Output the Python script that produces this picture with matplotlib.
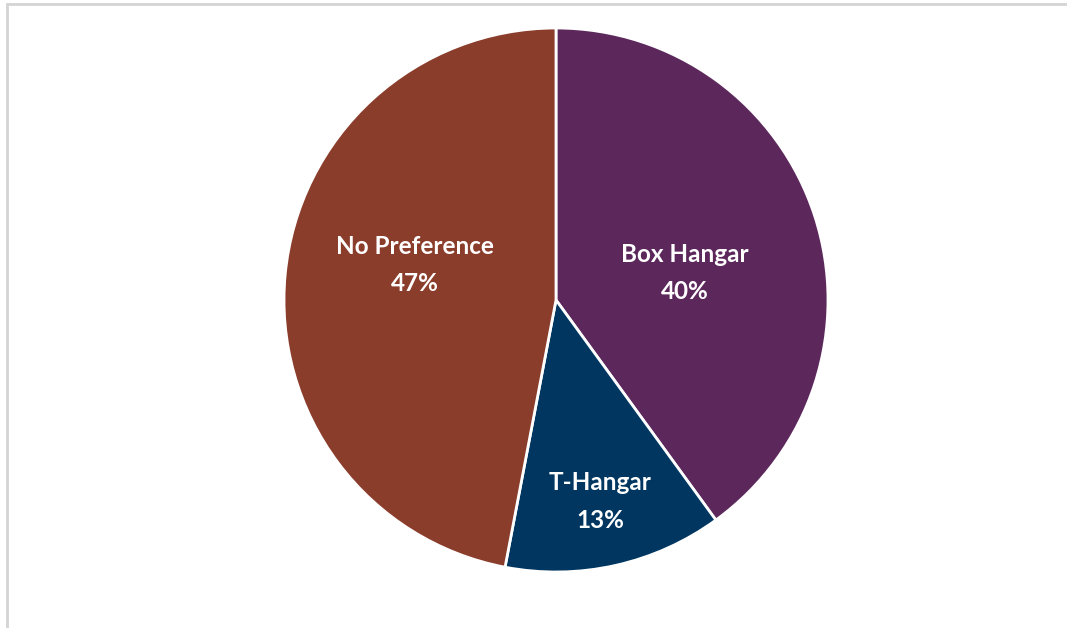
import matplotlib
matplotlib.use("Agg")
import matplotlib.pyplot as plt
from matplotlib.patches import Rectangle

# hangar preference shares (percent)
labels = ["Box Hangar", "T-Hangar", "No Preference"]
shares = [40, 13, 47]
colors = ["#5C285C", "#003660", "#8B3D2C"]
# label centres, in units of the pie radius
label_pos = [(0.474, 0.10), (0.162, -0.741), (-0.518, 0.130)]

fig = plt.figure(figsize=(10.67, 6.28), dpi=100)
W, H = 1067, 628

# light grey chart frame
fig.patches.append(Rectangle((7 / W, -0.1), 1.2, 1.1 - 4 / H,
                             transform=fig.transFigure, fill=False,
                             edgecolor="#d4d4d4", linewidth=2))

cx, cy, r = 556, 300, 272
ax = fig.add_axes([(cx - r) / W, (H - cy - r) / H, 2 * r / W, 2 * r / H])

wedges, _ = ax.pie(shares, colors=colors, startangle=90, counterclock=False,
                   wedgeprops=dict(edgecolor="white", linewidth=2))

for lab, val, (lx, ly) in zip(labels, shares, label_pos):
    ax.text(lx, ly, f"{lab}\n{val}%",
            ha="center", va="center", color="white", fontsize=17.5,
            fontweight="bold", family="Lato", linespacing=1.75)

ax.set_xlim(-1, 1)
ax.set_ylim(-1, 1)
ax.set_aspect("equal")

fig.savefig("out.png", dpi=100, facecolor="white")
